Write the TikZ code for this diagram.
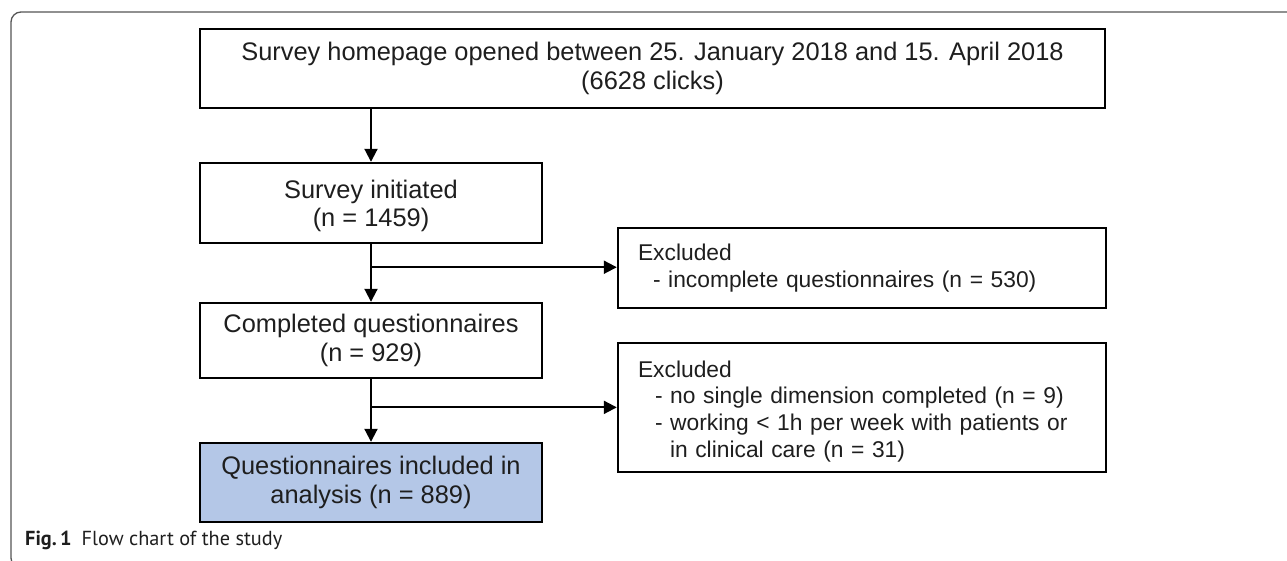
\documentclass[tikz,border=0pt]{standalone}
\usepackage{fontspec}
\setmainfont{Liberation Sans}
\newfontfamily\capfont{PT Sans}
\usetikzlibrary{arrows.meta,calc}
\definecolor{boxblue}{HTML}{B4C7E7}
\definecolor{frame}{HTML}{555555}
\definecolor{ink}{HTML}{1E1E1E}
\tikzset{
  flowbox/.style={draw=black, line width=2.4pt, text=ink, align=center, inner sep=0pt,
    font=\fontsize{25.4}{28.5}\selectfont},
  exbox/.style={draw=black, line width=2.4pt, text=ink, align=left, inner xsep=20pt, inner ysep=0pt,
    text width=448pt, font=\fontsize{22.8}{26.8}\selectfont},
  conn/.style={line width=2pt, -{Triangle[length=13pt,width=13pt]}},
}
\begin{document}
\begin{tikzpicture}[x=1pt,y=-1pt]
\useasboundingbox (0,0) rectangle (1287,561);
\clip (0,0) rectangle (1287,561);
% outer frame
\draw[frame, line width=1.3pt, rounded corners=10pt] (1300,12) -- (11,12) -- (11,568) -- (40,568);
% boxes
\node[flowbox, minimum width=905pt, minimum height=79pt] (b1) at (652.5,68.5)
  {Survey homepage opened between 25. January 2018 and 15. April 2018\\(6628 clicks)};
\node[flowbox, minimum width=342pt, minimum height=80pt] (b2) at (371,203)
  {\rule{0pt}{24pt}Survey initiated\\(n = 1459)};
\node[flowbox, minimum width=342pt, minimum height=75pt] (b3) at (371,340.5)
  {Completed questionnaires\\(n = 929)};
\node[flowbox, fill=boxblue, minimum width=342pt, minimum height=79pt] (b4) at (371,482.5)
  {Questionnaires included in\\analysis (n = 889)};
\node[exbox, minimum height=80pt] (e1) at (862,268)
  {Excluded\\\hspace*{15pt}- incomplete questionnaires (n = 530)};
\node[exbox, minimum height=129pt] (e2) at (862,407.5)
  {\rule{0pt}{24.5pt}Excluded\\\hspace*{17pt}- no single dimension completed (n = 9)\\\hspace*{17pt}- working < 1h per week with patients or\\\hspace*{32pt}in clinical care (n = 31)};
% connectors
\coordinate (j1) at ($(b2.south)!0.4!(b3.north)$);
\coordinate (j2) at ($(b3.south)!0.45!(b4.north)$);
\draw[conn] (b1.south -| b2.north) -- (b2.north);
\draw[conn] (b2.south) -- (b3.north);
\draw[conn] (b3.south) -- (b4.north);
\draw[conn] (j1) -- (j1 -| e1.west);
\draw[conn] (j2) -- (j2 -| e2.west);
% caption
\node[anchor=base west, inner sep=0pt, font=\capfont\fontsize{20.3}{22}\selectfont, text=ink] (cap) at (25,545)
  {\textbf{Fig.\,1}\hspace{10pt}Flow chart of the study};
\end{tikzpicture}
\end{document}
